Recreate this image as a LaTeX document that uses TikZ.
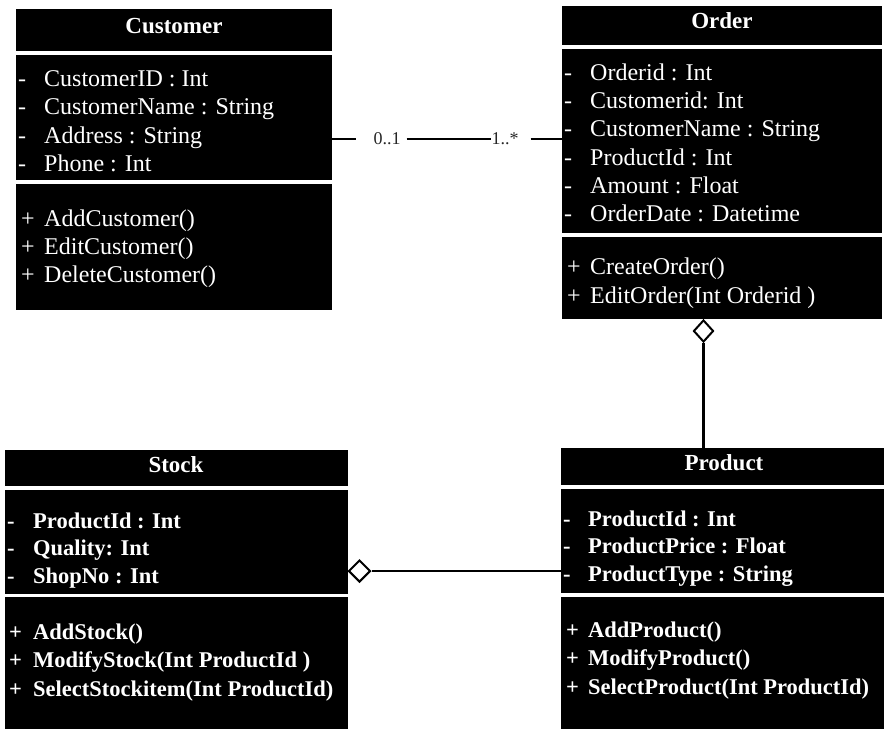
\documentclass[tikz,border=0pt]{standalone}
\usepackage{fontspec}
\setmainfont{Liberation Serif}
\usetikzlibrary{shapes.geometric}
\begin{document}
\begin{tikzpicture}[x=1pt,y=-1pt,
  sec/.style={fill=black,draw=none,inner sep=0pt,outer sep=0pt,anchor=north west},
  txt/.style={text=white,anchor=base west,inner sep=0pt,font=\fontsize{24}{24}\selectfont},
  btxt/.style={text=white,anchor=base west,inner sep=0pt,font=\fontsize{22.5}{24}\selectfont\bfseries},
  ttl/.style={text=white,anchor=base,inner sep=0pt,font=\fontsize{23}{24}\selectfont\bfseries},
  mult/.style={text=black!85,inner sep=0pt,font=\fontsize{18}{18}\selectfont},
  conn/.style={line width=2.2pt,draw=black},
  agg/.style={diamond,draw=black,fill=white,line width=2pt,inner sep=0pt,minimum width=20pt,minimum height=22pt}]

\useasboundingbox (0,0) rectangle (884,729);

% ---------------- Customer ----------------
\node[sec,minimum width=316pt,minimum height=42pt]  (custT) at (16,9) {};
\node[sec,minimum width=316pt,minimum height=125pt] (custA) at (16,55) {};
\node[sec,minimum width=316pt,minimum height=126pt] (custM) at (16,184) {};
\node[ttl] (custN) at (174,33) {Customer};
\node[txt] (cd1) at (18,86)  {-};  \node[txt] (ca1) at (44,86)  {CustomerID : Int};
\node[txt] (cd2) at (18,114) {-};  \node[txt] (ca2) at (44,114) {CustomerName : String};
\node[txt] (cd3) at (18,143) {-};  \node[txt] (ca3) at (44,143) {Address : String};
\node[txt] (cd4) at (18,171) {-};  \node[txt] (ca4) at (44,171) {Phone : Int};
\node[txt] (cp1) at (21,226) {+};  \node[txt] (cm1) at (44,226) {AddCustomer()};
\node[txt] (cp2) at (21,254) {+};  \node[txt] (cm2) at (44,254) {EditCustomer()};
\node[txt] (cp3) at (21,282) {+};  \node[txt] (cm3) at (44,282) {DeleteCustomer()};

% ---------------- Order ----------------
\node[sec,minimum width=320pt,minimum height=39pt]  (ordT) at (562,6) {};
\node[sec,minimum width=320pt,minimum height=184pt] (ordA) at (562,49) {};
\node[sec,minimum width=320pt,minimum height=82pt]  (ordM) at (562,237) {};
\node[ttl] (ordN) at (722,28) {Order};
\node[txt] (od1) at (564,80)  {-};  \node[txt] (oa1) at (590,80)  {Orderid : Int};
\node[txt] (od2) at (564,108) {-};  \node[txt] (oa2) at (590,108) {Customerid: Int};
\node[txt] (od3) at (564,136) {-};  \node[txt] (oa3) at (590,136) {CustomerName : String};
\node[txt] (od4) at (564,165) {-};  \node[txt] (oa4) at (590,165) {ProductId : Int};
\node[txt] (od5) at (564,193) {-};  \node[txt] (oa5) at (590,193) {Amount : Float};
\node[txt] (od6) at (564,221) {-};  \node[txt] (oa6) at (590,221) {OrderDate : Datetime};
\node[txt] (op1) at (567,274) {+};  \node[txt] (om1) at (590,274) {CreateOrder()};
\node[txt] (op2) at (567,303) {+};  \node[txt] (om2) at (590,303) {EditOrder(Int Orderid )};

% ---------------- Stock ----------------
\node[sec,minimum width=343pt,minimum height=36pt]  (stkT) at (5,450) {};
\node[sec,minimum width=343pt,minimum height=104pt] (stkA) at (5,490) {};
\node[sec,minimum width=343pt,minimum height=132pt] (stkM) at (5,597) {};
\node[ttl] (stkN) at (176,472) {Stock};
\node[btxt] (sd1) at (7,528) {-};  \node[btxt] (sa1) at (33,528) {ProductId : Int};
\node[btxt] (sd2) at (7,555) {-};  \node[btxt] (sa2) at (33,555) {Quality: Int};
\node[btxt] (sd3) at (7,583) {-};  \node[btxt] (sa3) at (33,583) {ShopNo : Int};
\node[btxt] (sp1) at (9,639) {+};  \node[btxt] (sm1) at (33,639) {AddStock()};
\node[btxt] (sp2) at (9,667) {+};  \node[btxt] (sm2) at (33,667) {ModifyStock(Int ProductId )};
\node[btxt] (sp3) at (9,696) {+};  \node[btxt] (sm3) at (33,696) {SelectStockitem(Int ProductId)};

% ---------------- Product ----------------
\node[sec,minimum width=323pt,minimum height=37pt]  (prodT) at (561,448) {};
\node[sec,minimum width=323pt,minimum height=104pt] (prodA) at (561,489) {};
\node[sec,minimum width=323pt,minimum height=132pt] (prodM) at (561,597) {};
\node[ttl] (prodN) at (724,470) {Product};
\node[btxt] (pd1) at (563,526) {-};  \node[btxt] (pa1) at (588,526) {ProductId : Int};
\node[btxt] (pd2) at (563,553) {-};  \node[btxt] (pa2) at (588,553) {ProductPrice : Float};
\node[btxt] (pd3) at (563,581) {-};  \node[btxt] (pa3) at (588,581) {ProductType : String};
\node[btxt] (pp1) at (566,637) {+};  \node[btxt] (pm1) at (588,637) {AddProduct()};
\node[btxt] (pp2) at (566,665) {+};  \node[btxt] (pm2) at (588,665) {ModifyProduct()};
\node[btxt] (pp3) at (566,694) {+};  \node[btxt] (pm3) at (588,694) {SelectProduct(Int ProductId)};

% ---------------- Association Customer -- Order ----------------
\coordinate (assocY) at (0,139);
\node[mult] (m1) at (387,139) {0..1};
\node[mult] (m2) at (505,139) {1..*};
\draw[conn] (custA.east |- assocY) -- ([xshift=-17pt]m1.west);
\draw[conn] ([xshift=6pt]m1.east) -- (m2.west);
\draw[conn] ([xshift=12pt]m2.east) -- (ordA.west |- assocY);

% ---------------- Aggregation Order <>-- Product ----------------
\node[agg] (aggO) at (703.5,331) {};
\draw[conn] (aggO.south) -- (aggO.south |- prodT.north);

% ---------------- Aggregation Stock <>-- Product ----------------
\node[agg,minimum width=22pt] (aggS) at (359.5,571) {};
\draw[conn] (aggS.east) -- (aggS.east -| prodA.west);
\end{tikzpicture}
\end{document}
